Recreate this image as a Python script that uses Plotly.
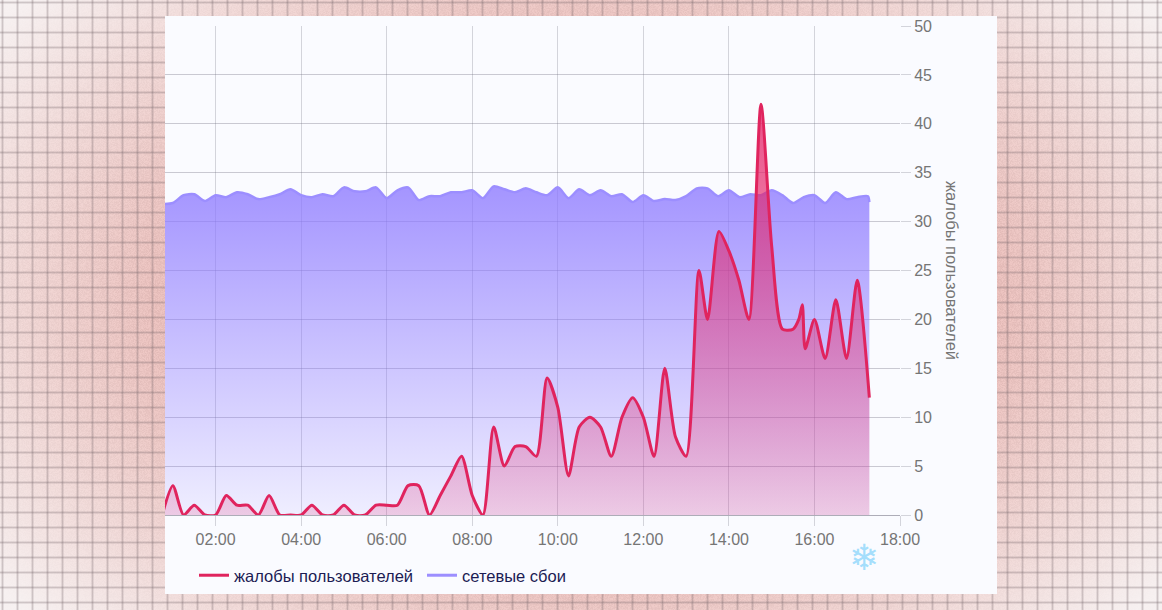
import base64, struct, zlib
import numpy as np
import plotly.graph_objects as go

BASE_DAY = "2024-01-01 "
X_TICKS = ["02:00", "04:00", "06:00", "08:00", "10:00", "12:00", "14:00", "16:00", "18:00"]
Y_TICKS = [0, 5, 10, 15, 20, 25, 30, 35, 40, 45, 50]

complaint_times = [
    "00:45", "01:00", "01:15", "01:30", "01:45", "02:00", "02:15", "02:30", "02:45", "03:00", "03:15", "03:30",
    "03:45", "04:00", "04:15", "04:30", "04:45", "05:00", "05:15", "05:30", "05:45", "06:00", "06:15", "06:30",
    "06:45", "07:00", "07:15", "07:30", "07:45", "08:00", "08:15", "08:30", "08:45", "09:00", "09:15", "09:30",
    "09:45", "10:00", "10:15", "10:30", "10:45", "11:00", "11:15", "11:30", "11:45", "12:00", "12:15", "12:30",
    "12:45", "13:00", "13:18", "13:30", "13:46", "14:00", "14:14", "14:28", "14:45", "15:00", "15:15", "15:30",
    "15:38", "15:43", "15:47", "16:00", "16:15", "16:30", "16:45", "17:00", "17:17",
]
complaints = [
    0, 3, 0, 1, 0, 0, 2, 1, 1, 0, 2, 0,
    0, 0, 1, 0, 0, 1, 0, 0, 1, 1, 1, 3,
    3, 0, 2, 4, 6, 2, 0, 9, 5, 7, 7, 6,
    14, 11, 4, 9, 10, 9, 6, 10, 12, 10, 6, 15,
    8, 6, 25, 20, 29, 27, 24, 20, 42, 27.5, 19, 19,
    20, 21.5, 17, 20, 16, 22, 16, 24, 12,
]

outage_times = [
    "00:45", "01:00", "01:15", "01:30", "01:45", "02:00", "02:15", "02:30", "02:45", "03:00", "03:15", "03:30",
    "03:45", "04:00", "04:15", "04:30", "04:45", "05:00", "05:15", "05:30", "05:45", "06:00", "06:15", "06:30",
    "06:45", "07:00", "07:15", "07:30", "07:45", "08:00", "08:15", "08:30", "08:45", "09:00", "09:15", "09:30",
    "09:45", "10:00", "10:15", "10:30", "10:45", "11:00", "11:15", "11:30", "11:45", "12:00", "12:15", "12:30",
    "12:45", "13:00", "13:15", "13:30", "13:45", "14:00", "14:15", "14:30", "14:45", "15:00", "15:15", "15:30",
    "15:45", "16:00", "16:15", "16:30", "16:45", "17:00", "17:15", "17:17",
]
outages = [
    31.8, 31.9, 32.7, 32.8, 32.1, 32.7, 32.5, 33.0, 32.8, 32.3, 32.5, 32.8,
    33.3, 32.7, 32.5, 32.8, 32.6, 33.5, 33.1, 33.1, 33.5, 32.4, 33.2, 33.5,
    32.2, 32.6, 32.6, 33.0, 33.0, 33.2, 32.4, 33.6, 33.3, 33.0, 33.4, 33.0,
    32.7, 33.5, 32.4, 33.3, 32.7, 33.2, 32.6, 32.8, 32.0, 32.7, 32.1, 32.3,
    32.2, 32.6, 33.4, 33.4, 32.6, 33.2, 32.5, 32.8, 32.7, 33.2, 32.7, 31.9,
    32.5, 32.7, 31.9, 33.0, 32.3, 32.5, 32.6, 32.0,
]

SERIES_COMPLAINTS = "жалобы пользователей"
SERIES_OUTAGES = "сетевые сбои"
AXIS_TITLE = "жалобы пользователей"

W, H = 1162, 610
L, R, T, B = 165, 900, 26, 515


def background_png():
    """Decorative graph-paper backdrop: pink vignette, fine grain, grid lines."""
    yy, xx = np.mgrid[0:H, 0:W].astype(float)
    r = np.sqrt(((xx - 581) / 660) ** 2 + ((yy - 305) / 430) ** 2)
    t = np.clip((r - 0.55) / 0.55, 0, 1)[..., None]
    img = (1 - t) * np.array([230, 182, 178.0]) + t * np.array([247, 241, 241.0])
    grain = np.sin(xx * 12.9898 + yy * 78.233) * 43758.5453
    grain = grain - np.floor(grain) - 0.5
    img = img + grain[..., None] * 14 * (1.1 - t)
    for off, w in ((0, 0.30), (-1, 0.13), (1, 0.13)):
        col = (xx - 2 - off) % 15 < 1
        row = (yy - 2 - off) % 15 < 1
        img = img * (1 - col[..., None] * w) + np.array([110, 95, 100.0]) * col[..., None] * w
        img = img * (1 - row[..., None] * w) + np.array([110, 95, 100.0]) * row[..., None] * w
    img = np.clip(img, 0, 255).astype(np.uint8)
    raw = b"".join(b"\x00" + img[i].tobytes() for i in range(H))

    def chunk(tag, data):
        return struct.pack(">I", len(data)) + tag + data + struct.pack(">I", zlib.crc32(tag + data))

    png = b"\x89PNG\r\n\x1a\n" + chunk(b"IHDR", struct.pack(">IIBBBBB", W, H, 8, 2, 0, 0, 0))
    png += chunk(b"IDAT", zlib.compress(raw, 9)) + chunk(b"IEND", b"")
    return "data:image/png;base64," + base64.b64encode(png).decode()


PW, PH = R - L, B - T
FONT = "Liberation Sans, Arial, sans-serif"
GREY = "#757575"
PINK = "#e0245e"
PURPLE = "#9c8eff"
SMOOTH = 0.7

fig = go.Figure()
fig.add_trace(go.Scatter(
    x=[BASE_DAY + t for t in outage_times], y=outages, mode="lines", showlegend=False,
    line=dict(color=PURPLE, width=2.5, shape="spline", smoothing=SMOOTH),
    fill="tozeroy",
    fillgradient=dict(type="vertical", colorscale=[[0, "rgba(140,120,255,0.1)"], [1, "rgba(140,120,255,0.78)"]]),
    hoverinfo="skip",
))
fig.add_trace(go.Scatter(
    x=[BASE_DAY + t for t in complaint_times], y=complaints, mode="lines", showlegend=False,
    line=dict(color=PINK, width=3, shape="spline", smoothing=SMOOTH),
    fill="tozeroy",
    fillgradient=dict(type="vertical", colorscale=[[0, "rgba(225,40,110,0.18)"], [1, "rgba(230,30,100,0.78)"]]),
    hoverinfo="skip",
))
# Legend keys are plain line samples, with no gradient fill.
fig.add_trace(go.Scatter(x=[None], y=[None], mode="lines", name=SERIES_COMPLAINTS,
                         line=dict(color=PINK, width=3), hoverinfo="skip"))
fig.add_trace(go.Scatter(x=[None], y=[None], mode="lines", name=SERIES_OUTAGES,
                         line=dict(color=PURPLE, width=3), hoverinfo="skip"))

fig.update_layout(
    width=W, height=H, autosize=False,
    margin=dict(l=L, r=W - R, t=T, b=H - B, pad=0),
    paper_bgcolor="#f0dcda", plot_bgcolor="rgba(0,0,0,0)",
    font=dict(family=FONT, size=16, color=GREY),
    showlegend=True,
    legend=dict(
        orientation="h", x=(194 - L) / PW, xanchor="left", y=-(558 - B) / PH, yanchor="top",
        font=dict(size=16.5, color="#1c1c54"), itemwidth=30, bgcolor="rgba(0,0,0,0)",
        entrywidth=183, entrywidthmode="pixels",
        traceorder="normal", itemclick=False, itemdoubleclick=False,
    ),
    xaxis=dict(
        type="date", range=[BASE_DAY + "00:49", BASE_DAY + "18:00"],
        tickvals=[BASE_DAY + t for t in X_TICKS], ticktext=X_TICKS,
        showgrid=True, gridcolor="rgba(110,110,125,0.28)", gridwidth=1,
        ticks="outside", ticklen=10, tickcolor="rgba(110,110,125,0.28)", tickwidth=1,
        showline=True, linecolor="rgba(110,110,125,0.55)", linewidth=1, zeroline=False,
        tickfont=dict(size=16, color=GREY),
    ),
    yaxis=dict(
        side="right", range=[0, 50], tickvals=Y_TICKS,
        showgrid=True, gridcolor="rgba(110,110,125,0.35)", gridwidth=1,
        ticks="outside", ticklen=10, tickcolor="rgba(110,110,125,0.28)", tickwidth=1,
        showline=False, zeroline=False,
        tickfont=dict(size=16, color=GREY),
    ),
    images=[dict(
        source=background_png(), xref="paper", yref="paper",
        x=-L / PW, y=1 + T / PH, sizex=W / PW, sizey=H / PH,
        xanchor="left", yanchor="top", sizing="stretch", layer="below",
    )],
    shapes=[dict(
        type="rect", xref="paper", yref="paper", layer="below",
        x0=0, x1=(997 - L) / PW, y0=1 + (T - 16) / PH, y1=-(594 - B) / PH,
        fillcolor="#fafbff", line=dict(width=0),
    )],
    annotations=[
        dict(text=AXIS_TITLE, textangle=90, xref="paper", yref="paper",
             x=(952 - L) / PW, y=(B - 270) / PH, xanchor="center", yanchor="middle",
             showarrow=False, font=dict(size=16.5, color=GREY)),
        dict(text="❄", xref="paper", yref="paper",
             x=(864 - L) / PW, y=-(557 - B) / PH, xanchor="center", yanchor="middle",
             showarrow=False, font=dict(family="DejaVu Sans", size=36, color="#a5defc")),
    ],
)

fig.write_html("out.html", config={"displayModeBar": False},
               post_script="document.body.style.margin='0';document.documentElement.style.overflow='hidden';")
